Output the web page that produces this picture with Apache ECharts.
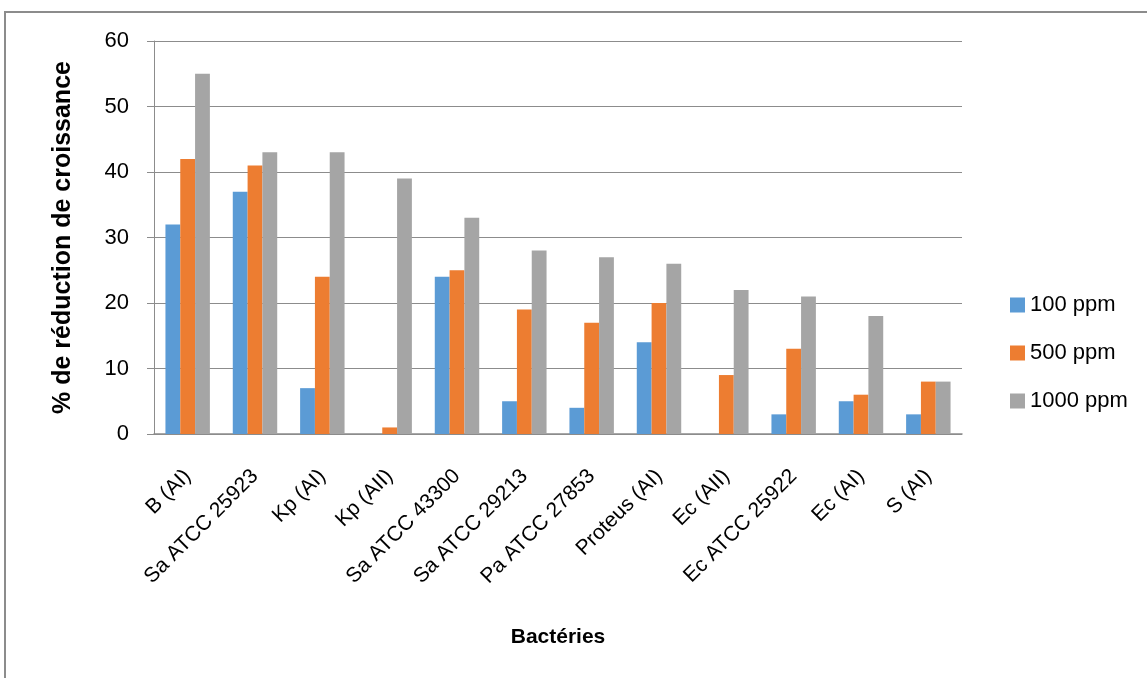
<!DOCTYPE html>
<html>
<head>
<meta charset="utf-8">
<script src="https://cdn.jsdelivr.net/npm/echarts@6/dist/echarts.min.js"></script>
<style>
  html, body { margin: 0; padding: 0; background: #fff; }
  #chart { width: 1147px; height: 678px; }
</style>
</head>
<body>
<div id="chart"></div>
<script>
var categories = ['B (AI)', 'Sa ATCC 25923', 'Kp (AI)', 'Kp (AII)', 'Sa ATCC 43300', 'Sa ATCC 29213',
    'Pa ATCC 27853', 'Proteus (AI)', 'Ec (AII)', 'Ec ATCC 25922', 'Ec (AI)', 'S (AI)'];
var seriesNames = ['100 ppm', '500 ppm', '1000 ppm'];
var ppm100 = [32, 37, 7, 0, 24, 5, 4, 14, 0, 3, 5, 3];
var ppm500 = [42, 41, 24, 1, 25, 19, 17, 20, 9, 13, 6, 8];
var ppm1000 = [55, 43, 43, 39, 33, 28, 27, 26, 22, 21, 18, 8];
var colors = ['#5B9BD5', '#ED7D31', '#A5A5A5'];

var font = '"Liberation Sans", "Open Sans", sans-serif';
var chart = echarts.init(document.getElementById('chart'));

var values = [ppm100, ppm500, ppm1000];
var series = [];
for (var i = 0; i < seriesNames.length; i++) {
    series.push({
        name: seriesNames[i],
        type: 'bar',
        data: values[i],
        barGap: '0%',
        barCategoryGap: '34%',
        itemStyle: { color: colors[i] }
    });
}

chart.setOption({
    animation: false,
    graphic: [{
        type: 'rect',
        shape: { x: 5, y: 12, width: 1200, height: 700 },
        style: { fill: 'none', stroke: '#8C8C8C', lineWidth: 2 }
    }],
    grid: { left: 154, right: 185, top: 41, bottom: 244 },
    legend: {
        orient: 'vertical',
        left: 1005,
        top: 289,
        itemWidth: 15,
        itemHeight: 15,
        itemGap: 26,
        icon: 'rect',
        textStyle: { fontFamily: font, fontSize: 22, color: '#000' },
        data: seriesNames
    },
    xAxis: {
        type: 'category',
        data: categories,
        name: 'Bactéries',
        nameLocation: 'middle',
        nameGap: 193,
        nameTextStyle: { fontFamily: font, fontSize: 21, fontWeight: 'bold', color: '#000' },
        axisLine: { lineStyle: { color: '#8C8C8C', width: 1.5 } },
        axisTick: { show: false },
        axisLabel: { rotate: 45, fontFamily: font, fontSize: 21, color: '#000', margin: 39, interval: 0 }
    },
    yAxis: {
        type: 'value',
        min: 0,
        max: 60,
        interval: 10,
        name: '% de réduction de croissance',
        nameLocation: 'middle',
        nameGap: 78,
        nameTextStyle: { fontFamily: font, fontSize: 25, fontWeight: 'bold', color: '#000' },
        axisLine: { show: true, lineStyle: { color: '#8C8C8C', width: 1 } },
        axisTick: { show: true, length: 7, lineStyle: { color: '#8C8C8C' } },
        axisLabel: { fontFamily: font, fontSize: 22, color: '#000', margin: 25 },
        splitLine: { lineStyle: { color: '#8C8C8C', width: 1 } }
    },
    series: series
});
</script>
</body>
</html>
